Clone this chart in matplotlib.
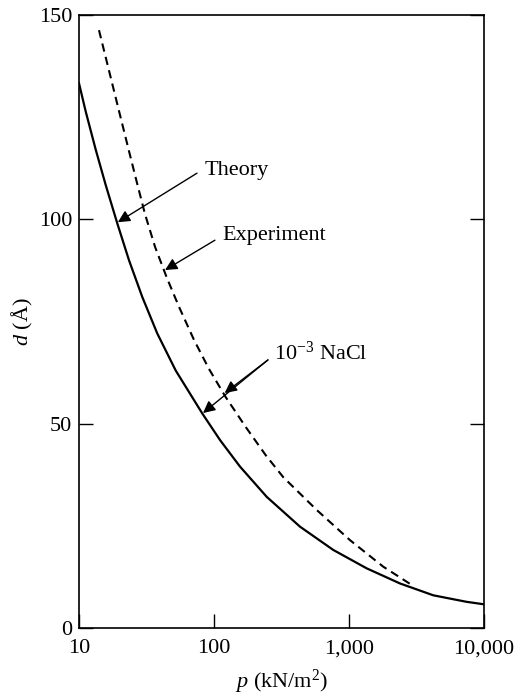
import matplotlib.pyplot as plt
from matplotlib.ticker import FixedLocator, FixedFormatter, NullLocator

plt.rcParams['font.family'] = ['Liberation Serif', 'DejaVu Serif']
plt.rcParams['mathtext.fontset'] = 'custom'
plt.rcParams['mathtext.rm'] = 'Liberation Serif'
plt.rcParams['mathtext.it'] = 'Liberation Serif:italic'

# theory curve (solid)
p_theory = [10, 11.21, 13.29, 15.77, 19.22, 23.46, 29.43, 37.97, 52.06, 81.9,
            110.8, 155.8, 245.7, 433.5, 765, 1352, 2387, 4211, 7447, 10000]
d_theory = [133.3, 126.4, 117.1, 108.4, 99.0, 90.0, 81.0, 72.1, 63.0, 52.5,
            46.0, 39.5, 32.1, 24.8, 19.1, 14.6, 10.9, 8.0, 6.4, 5.8]

# experiment curve (dashed)
p_exp = [14.06, 16.68, 19.79, 23.46, 26.90, 30.82, 36.56, 44.87, 55.05, 71.1,
         91.8, 122.1, 171.7, 241.5, 326, 576, 1017, 1795, 2831]
d_exp = [146.3, 136.4, 126.5, 116.7, 108.9, 101.3, 93.3, 85.6, 78.6, 70.5,
         63.4, 56.5, 49.2, 42.3, 36.9, 28.9, 21.5, 15.0, 10.8]

x_ticks = [10, 100, 1000, 10000]
x_labels = ["10", "100", "1,000", "10,000"]
y_ticks = [0, 50, 100, 150]

fs = 16

fig = plt.figure(figsize=(5.14, 6.96), dpi=100)
ax = fig.add_axes([0.1537, 0.0977, 0.7879, 0.8807])

ax.plot(p_theory, d_theory, color="black", lw=1.6, solid_joinstyle="round")
ax.plot(p_exp, d_exp, color="black", lw=1.5, dashes=(4, 2.6))

ax.set_xscale("log")
ax.set_xlim(10, 10000)
ax.set_ylim(0, 150)
ax.xaxis.set_major_locator(FixedLocator(x_ticks))
ax.xaxis.set_major_formatter(FixedFormatter(x_labels))
ax.xaxis.set_minor_locator(NullLocator())
ax.set_yticks(y_ticks)

ax.tick_params(axis="both", direction="in", length=10, width=1.0,
               labelsize=fs, pad=5)
ax.tick_params(axis="x", pad=8)
ax.tick_params(axis="y", right=True)
for s in ax.spines.values():
    s.set_linewidth(1.2)

ax.set_xlabel(r"$\it{p}$ (kN/m$^2$)", fontsize=fs, labelpad=7)
ax.set_ylabel(r"$\it{d}$ (Å)", fontsize=fs, labelpad=3)

arrow = dict(arrowstyle="-|>", color="black", lw=1.0, mutation_scale=18,
             shrinkA=0, shrinkB=0)
ax.annotate("", xy=(19.4, 99.3), xytext=(74.8, 111.3), arrowprops=arrow)
ax.text(85.8, 112.0, "Theory", fontsize=fs, va="center", ha="left")
ax.annotate("", xy=(43.4, 87.6), xytext=(101.6, 94.9), arrowprops=arrow)
ax.text(114.6, 96.1, "Experiment", fontsize=fs, va="center", ha="left")
ax.annotate("", xy=(120, 57.5), xytext=(251, 65.6), arrowprops=arrow)
ax.annotate("", xy=(82.9, 52.6), xytext=(251, 65.6), arrowprops=arrow)
ax.text(280, 67.2, r"10$^{-3}$ NaCl", fontsize=fs, va="center", ha="left")

fig.savefig("out.png", dpi=100)
